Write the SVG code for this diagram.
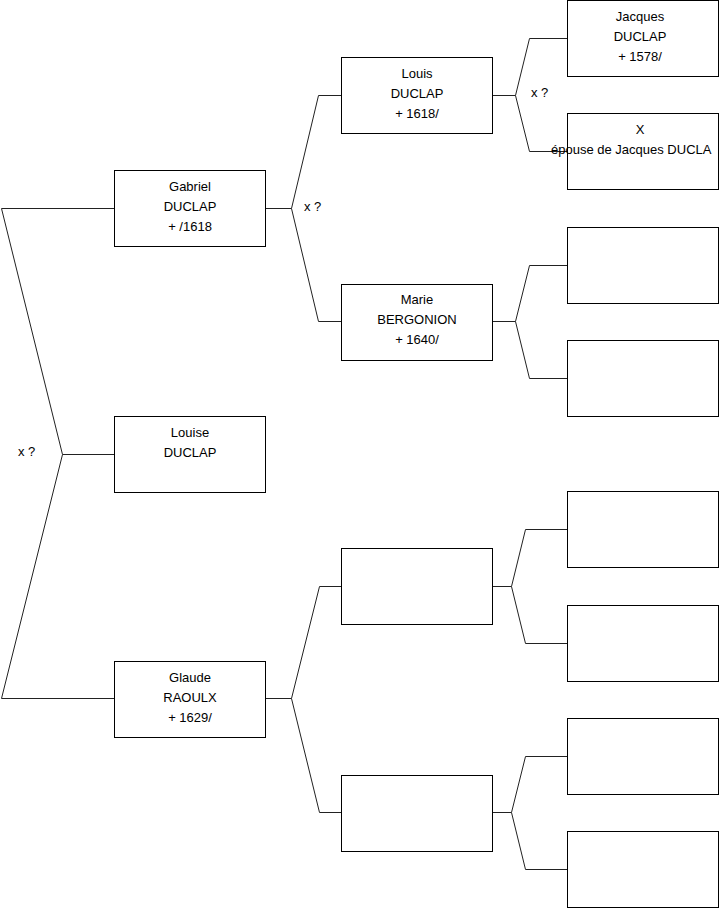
<svg xmlns="http://www.w3.org/2000/svg" width="719" height="908" viewBox="0 0 719 908">
<style>
.box{fill:#fff;stroke:#000;stroke-width:1}
.con{fill:none;stroke:#222;stroke-width:1}
text{font-family:"Liberation Sans",Arial,sans-serif;font-size:13px;fill:#000}
.c{text-anchor:middle}
</style>
<rect width="719" height="908" fill="#fff"/>
<g id="connectors">
<polyline class="con" points="114.5,208.5 1.5,208.5 62.5,454.5 1.5,698.5 114.5,698.5"/>
<line class="con" x1="62.5" y1="454.5" x2="114.5" y2="454.5"/>
<polyline class="con" points="341.5,95.5 318.5,95.5 291.5,208.5 318.5,321.5 341.5,321.5"/>
<line class="con" x1="265.5" y1="208.5" x2="291.5" y2="208.5"/>
<polyline class="con" points="341.5,586.5 319.5,586.5 291.5,698.5 319.5,812.5 341.5,812.5"/>
<line class="con" x1="265.5" y1="698.5" x2="291.5" y2="698.5"/>
<polyline class="con" points="567.5,38.5 529.5,38.5 515.5,95.5 529.5,151.5 567.5,151.5"/>
<line class="con" x1="492.5" y1="95.5" x2="515.5" y2="95.5"/>
<polyline class="con" points="567.5,265.5 529.5,265.5 515.5,321.5 529.5,378.5 567.5,378.5"/>
<line class="con" x1="492.5" y1="321.5" x2="515.5" y2="321.5"/>
<polyline class="con" points="567.5,529.5 525.5,529.5 511.5,586.5 525.5,643.5 567.5,643.5"/>
<line class="con" x1="492.5" y1="586.5" x2="511.5" y2="586.5"/>
<polyline class="con" points="567.5,756.5 525.5,756.5 511.5,812.5 525.5,869.5 567.5,869.5"/>
<line class="con" x1="492.5" y1="812.5" x2="511.5" y2="812.5"/>
</g>
<g id="labels">
<text x="18" y="456">x ?</text>
<text x="304" y="211">x ?</text>
<text x="531" y="97">x ?</text>
</g>
<g id="gabriel"><rect class="box" x="114.5" y="170.5" width="151" height="76"/>
<text class="c" x="190" y="191">Gabriel</text><text class="c" x="190" y="211">DUCLAP</text><text class="c" x="190" y="231">+ /1618</text></g>
<g id="louise"><rect class="box" x="114.5" y="416.5" width="151" height="76"/>
<text class="c" x="190" y="437">Louise</text><text class="c" x="190" y="457">DUCLAP</text></g>
<g id="glaude"><rect class="box" x="114.5" y="661.5" width="151" height="76"/>
<text class="c" x="190" y="682">Glaude</text><text class="c" x="190" y="702">RAOULX</text><text class="c" x="190" y="722">+ 1629/</text></g>
<g id="louis"><rect class="box" x="341.5" y="57.5" width="151" height="76"/>
<text class="c" x="417" y="78">Louis</text><text class="c" x="417" y="98">DUCLAP</text><text class="c" x="417" y="118">+ 1618/</text></g>
<g id="marie"><rect class="box" x="341.5" y="284.5" width="151" height="76"/>
<text class="c" x="417" y="304">Marie</text><text class="c" x="417" y="324">BERGONION</text><text class="c" x="417" y="344">+ 1640/</text></g>
<g id="p3"><rect class="box" x="341.5" y="548.5" width="151" height="76"/></g>
<g id="p4"><rect class="box" x="341.5" y="775.5" width="151" height="76"/></g>
<g id="jacques"><rect class="box" x="567.5" y="0.5" width="151" height="76"/>
<text class="c" x="640" y="21">Jacques</text><text class="c" x="640" y="41">DUCLAP</text><text class="c" x="640" y="61">+ 1578/</text></g>
<g id="x"><rect class="box" x="567.5" y="113.5" width="151" height="76"/>
<text class="c" x="640" y="134">X</text><text x="551" y="154">épouse de Jacques DUCLA</text></g>
<g id="r3"><rect class="box" x="567.5" y="227.5" width="151" height="76"/></g>
<g id="r4"><rect class="box" x="567.5" y="340.5" width="151" height="76"/></g>
<g id="r5"><rect class="box" x="567.5" y="491.5" width="151" height="76"/></g>
<g id="r6"><rect class="box" x="567.5" y="605.5" width="151" height="76"/></g>
<g id="r7"><rect class="box" x="567.5" y="718.5" width="151" height="76"/></g>
<g id="r8"><rect class="box" x="567.5" y="831.5" width="151" height="76"/></g>
</svg>
